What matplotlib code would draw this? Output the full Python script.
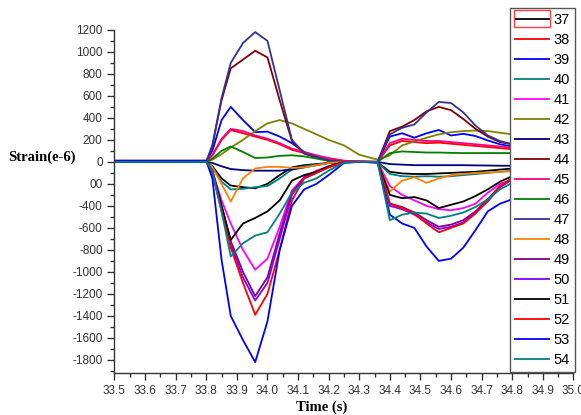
import matplotlib
matplotlib.use("Agg")
import matplotlib.pyplot as plt
from matplotlib.patches import Rectangle
from matplotlib.ticker import MultipleLocator

# time grid (s)
T = [33.50, 33.80, 33.82, 33.85, 33.88, 33.92, 33.96, 34.00, 34.04, 34.08, 34.12, 34.16, 34.20, 34.25,
     34.30, 34.36, 34.40, 34.44, 34.48, 34.52, 34.56, 34.60, 34.64, 34.68, 34.72, 34.76, 34.80, 34.85]

# strain values (e-6), one list per gauge
s37 = [0, 0, -40, -150, -215, -230, -240, -200, -120, -50, -30, -20, -10, 0, 0, -5, -90, -105, -110, -110, -105, -100, -95, -90, -80, -70, -60, -55]
s38 = [10, 10, 60, 200, 290, 260, 230, 200, 160, 110, 80, 50, 30, 10, 5, 0, 150, 190, 180, 170, 175, 165, 155, 145, 135, 125, 115, 110]
s39 = [10, 10, 100, 380, 500, 380, 270, 275, 230, 170, 90, 40, 10, 0, 0, -5, 230, 260, 220, 260, 290, 240, 255, 235, 195, 160, 140, 135]
s40 = [0, 0, -50, -180, -250, -245, -230, -220, -150, -70, -40, -25, -10, 0, 0, -5, -110, -130, -135, -130, -135, -130, -120, -110, -100, -90, -80, -75]
s41 = [0, 0, -80, -350, -560, -800, -980, -880, -590, -260, -140, -80, -40, 0, 5, 0, -220, -300, -350, -400, -430, -440, -420, -380, -280, -200, -160, -140]
s42 = [0, 0, 20, 70, 130, 200, 280, 350, 380, 350, 300, 250, 200, 150, 65, 20, 60, 150, 185, 220, 250, 270, 280, 285, 280, 265, 250, 245]
s43 = [0, 0, -10, -40, -65, -75, -80, -80, -80, -70, -50, -30, -10, 0, 0, 0, -20, -25, -30, -30, -30, -30, -30, -32, -33, -35, -35, -35]
s44 = [0, 0, 150, 560, 850, 930, 1010, 950, 560, 190, 75, 40, 10, 0, 0, 0, 280, 320, 380, 460, 500, 470, 390, 300, 230, 180, 160, 150]
s45 = [0, 0, 60, 210, 300, 280, 240, 210, 170, 120, 90, 60, 35, 10, 5, 0, 170, 210, 200, 190, 190, 180, 170, 160, 150, 140, 130, 125]
s46 = [0, 0, 30, 100, 140, 90, 35, 40, 55, 60, 50, 30, 10, 0, 0, 0, 80, 95, 90, 85, 85, 82, 80, 80, 80, 80, 80, 80]
s47 = [0, 0, 150, 580, 900, 1080, 1180, 1100, 650, 200, 80, 45, 15, 0, 0, 0, 250, 310, 340, 450, 545, 535, 450, 330, 240, 190, 160, 150]
s48 = [0, 0, -50, -200, -360, -150, -60, -45, -45, -55, -50, -30, -10, 0, 0, 0, -270, -170, -140, -190, -150, -120, -110, -100, -95, -90, -85, -80]
s49 = [0, 0, -90, -400, -720, -1000, -1220, -1050, -650, -280, -140, -90, -45, 0, 0, 0, -380, -410, -460, -530, -590, -570, -530, -450, -340, -220, -150, -130]
s50 = [0, 0, -100, -430, -750, -1050, -1260, -1100, -700, -300, -150, -100, -50, 0, 0, 0, -400, -430, -480, -550, -610, -590, -550, -460, -360, -230, -160, -140]
s51 = [0, 0, -80, -400, -710, -560, -510, -450, -350, -170, -120, -90, -40, 0, 0, 0, -300, -330, -320, -350, -420, -390, -360, -310, -250, -180, -130, -110]
s52 = [10, 10, -100, -450, -780, -1100, -1390, -1200, -800, -350, -150, -100, -50, 0, 0, 0, -380, -420, -470, -560, -640, -600, -560, -470, -350, -220, -150, -130]
s53 = [10, 10, -150, -890, -1400, -1620, -1820, -1450, -800, -400, -250, -200, -120, -10, 0, -5, -480, -560, -600, -770, -900, -880, -780, -620, -450, -380, -340, -320]
s54 = [0, 0, -80, -450, -860, -740, -670, -640, -470, -280, -190, -150, -80, -5, 0, 0, -530, -480, -460, -470, -510, -490, -460, -410, -340, -250, -190, -160]

labels = ['37', '38', '39', '40', '41', '42', '43', '44', '45',
          '46', '47', '48', '49', '50', '51', '52', '53', '54']
series = [s37, s38, s39, s40, s41, s42, s43, s44, s45,
          s46, s47, s48, s49, s50, s51, s52, s53, s54]
colors = ['#000000', '#FF0000', '#0000FF', '#008080', '#FF00FF', '#808000', '#000080', '#800000', '#FF0080',
          '#008000', '#333399', '#FF8000', '#800080', '#8000FF', '#000000', '#FF0000', '#0000FF', '#008080']

plt.rcParams['font.family'] = ['Liberation Sans', 'DejaVu Sans']

fig = plt.figure(figsize=(5.81, 4.15), dpi=100)
ax = fig.add_axes([0.197, 0.101, 0.790, 0.827])

for y, c, lab in zip(series, colors, labels):
    ax.plot(T, y, color=c, lw=1.3, label=lab)

ax.xaxis.set_major_locator(MultipleLocator(0.1))
ax.xaxis.set_minor_locator(MultipleLocator(0.05))
ax.yaxis.set_major_locator(MultipleLocator(200))
ax.yaxis.set_minor_locator(MultipleLocator(100))
ax.set_xlim(33.5, 35.0)
ax.set_ylim(-1920, 1200)
xt = ax.get_xticks()
ax.set_xticks(xt)
ax.set_xticklabels([f"{v:.1f}" for v in xt])
yt = ax.get_yticks()
ax.set_yticks(yt)
ax.set_yticklabels(["00" if round(v) == -200 else f"{v:.0f}" for v in yt])
ax.set_ylim(-1920, 1200)
ax.set_xlim(33.5, 35.0)

for s in ['top', 'right']:
    ax.spines[s].set_visible(False)
for s in ['left', 'bottom']:
    ax.spines[s].set_color('#333333')
    ax.spines[s].set_linewidth(1.0)
ax.tick_params(which='major', direction='out', length=5, width=1, color='#333333',
               labelsize=8.5, labelcolor='#333333')
ax.tick_params(which='minor', direction='out', length=3, width=1, color='#333333')

fig.text(8 / 581, 1 - 157 / 415, 'Strain(e-6)', family='Liberation Serif', weight='bold',
         fontsize=10.5, va='center', ha='left')
fig.text(322 / 581, 1 - 407 / 415, 'Time (s)', family='Liberation Serif', weight='bold',
         fontsize=10.5, va='center', ha='center')

leg = ax.legend(loc='upper right', bbox_to_anchor=(575 / 581, 1 - 8 / 415),
                bbox_transform=fig.transFigure, fontsize=10.5, frameon=True, fancybox=False,
                handlelength=2.35, handletextpad=0.3, labelspacing=0.41, borderpad=0.35,
                borderaxespad=0)
leg.get_frame().set_edgecolor('#555555')
leg.get_frame().set_linewidth(1.0)
leg.get_frame().set_alpha(1)

# selection box around the first legend entry
fig.canvas.draw()
bb = leg.legend_handles[0].get_window_extent()
inv = fig.transFigure.inverted()
(x0, y0) = inv.transform((bb.x0 - 1, (bb.y0 + bb.y1) / 2 - 8.5))
(x1, y1) = inv.transform((bb.x1 + 1, (bb.y0 + bb.y1) / 2 + 8.5))
fig.patches.append(Rectangle((x0, y0), x1 - x0, y1 - y0, transform=fig.transFigure,
                             fill=False, edgecolor='#FF4040', lw=1.0, zorder=10))

fig.savefig('out.png', dpi=100)
